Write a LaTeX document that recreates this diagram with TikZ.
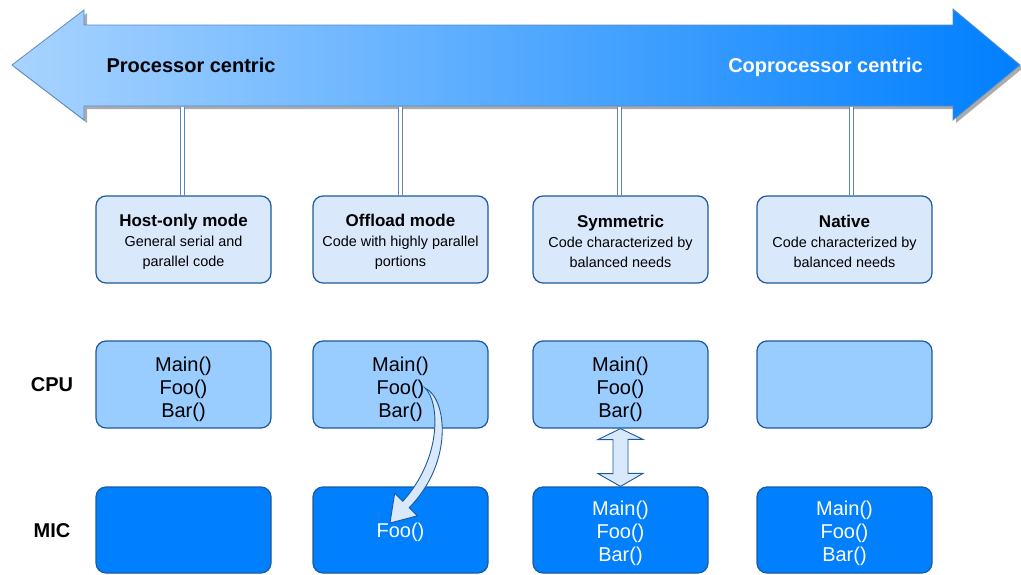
\documentclass[tikz,border=0pt]{standalone}
\usepackage{fontspec}
\setmainfont{Liberation Sans}
\usetikzlibrary{calc}

\definecolor{modefill}{HTML}{DAE8FC}
\definecolor{cpufill}{HTML}{99CCFF}
\definecolor{micfill}{HTML}{007FFF}
\definecolor{boxline}{HTML}{1B5A9C}
\definecolor{arrowline}{HTML}{5A89C8}
\definecolor{linkline}{HTML}{5F84BC}
\definecolor{shadowgray}{HTML}{ABABAB}

\tikzset{
  box/.style={draw=boxline, line width=1.2pt, rounded corners=10pt,
    minimum width=175pt, align=center, inner sep=0pt},
  modebox/.style={box, fill=modefill, minimum height=87pt,
    font=\fontsize{14.4}{20}\selectfont},
  cpubox/.style={box, fill=cpufill, minimum height=87pt,
    font=\fontsize{20}{23}\selectfont},
  micbox/.style={box, fill=micfill, minimum height=86pt, text=white,
    font=\fontsize{20}{23}\selectfont},
  rowlabel/.style={font=\fontsize{20}{24}\selectfont\bfseries},
  endlabel/.style={font=\fontsize{20}{24}\selectfont\bfseries,
    text height=14.5pt, text depth=4.5pt},
  link/.style={draw=linkline, line width=1.4pt, double=white, double distance=3pt},
  blockarrow/.style={draw=boxline, fill=modefill, line width=0.9pt, line join=miter}
}
% tall first-line strut, pushes a text block down inside its box
\newcommand{\topstrut}[1]{\rule{0pt}{#1}}
\newcommand{\modetitle}[1]{{\fontsize{17}{20}\selectfont\bfseries\topstrut{16.5pt}#1}}

\begin{document}
\begin{tikzpicture}[x=1pt,y=-1pt]
\useasboundingbox (0,0) rectangle (1021,574);

% two-headed scale arrow: shadow, gradient body, outline
\path[fill=shadowgray]
  ($(12,65)+(3,3)$) -- ($(84,10)+(3,3)$) -- ($(84,25)+(3,3)$) -- ($(953,25)+(3,3)$)
  -- ($(953,9)+(3,3)$) -- ($(1020,65)+(3,3)$) -- ($(953,120)+(3,3)$) -- ($(953,106)+(3,3)$)
  -- ($(84,106)+(3,3)$) -- ($(84,120)+(3,3)$) -- cycle;
\shade[left color=cpufill!85!white, middle color=micfill!68!white, right color=micfill]
  (12,65) -- (84,10) -- (84,25) -- (953,25) -- (953,9) -- (1020,65) -- (953,120)
  -- (953,106) -- (84,106) -- (84,120) -- cycle;
\draw[arrowline, line width=0.8pt, line join=miter]
  (12,65) -- (84,10) -- (84,25) -- (953,25) -- (953,9) -- (1020,65) -- (953,120)
  -- (953,106) -- (84,106) -- (84,120) -- cycle;

\node[endlabel] (proc) at (191,67) {Processor centric};
\node[endlabel, text=white] (coproc) at (825.5,67) {Coprocessor centric};

% mode boxes
\node[modebox] (host) at (183.5,239.5)
  {\modetitle{Host-only mode}\\General serial and\\parallel code};
\node[modebox] (offload) at (400.5,239.5)
  {\modetitle{Offload mode}\\Code with highly parallel\\portions};
\node[modebox] (sym) at (620.5,239.5)
  {\modetitle{Symmetric}\\Code characterized by\\balanced needs};
\node[modebox] (native) at (844.5,239.5)
  {\modetitle{Native}\\Code characterized by\\balanced needs};

% links from the scale arrow down to the modes
\coordinate (t1) at (182.5,106.5);
\coordinate (t2) at (400.5,106.5);
\coordinate (t3) at (619.5,106.5);
\coordinate (t4) at (851.5,106.5);
\draw[link] (t1) -- (t1 |- host.north);
\draw[link] (t2) -- (t2 |- offload.north);
\draw[link] (t3) -- (t3 |- sym.north);
\draw[link] (t4) -- (t4 |- native.north);

% row labels
\node[rowlabel] (cpu) at (52,385) {CPU};
\node[rowlabel] (mic) at (52,531) {MIC};

% CPU row
\node[cpubox] (cpu1) at (183.5,384.5) {\topstrut{24pt}Main()\\Foo()\\Bar()};
\node[cpubox] (cpu2) at (400.5,384.5) {\topstrut{24pt}Main()\\Foo()\\Bar()};
\node[cpubox] (cpu3) at (620.5,384.5) {\topstrut{24pt}Main()\\Foo()\\Bar()};
\node[cpubox] (cpu4) at (844.5,384.5) {};

% MIC row
\node[micbox] (mic1) at (183.5,530) {};
\node[micbox] (mic2) at (400.5,530) {\topstrut{18.6pt}Foo()};
\node[micbox] (mic3) at (620.5,530) {\topstrut{20.6pt}Main()\\Foo()\\Bar()};
\node[micbox] (mic4) at (844.5,530) {\topstrut{20.6pt}Main()\\Foo()\\Bar()};

% offload call: tapered curved block arrow from Foo() on the host to Foo() on the card
\coordinate (fooout) at (425,388);
\coordinate (headtip) at (390,523);
\path[blockarrow]
  (fooout) .. controls (447,398) and (454,462) .. (409.2,507.7)
  -- (417.3,515.8) -- (headtip) -- (394.7,493.2) -- (402.8,501.3)
  .. controls (442,458) and (440,402) .. (fooout) -- cycle;

% symmetric exchange: two-headed block arrow between CPU and MIC
\draw[blockarrow]
  (cpu3.south) -- ++(-22.5,11) -- ++(15,0) -- ++(0,34) -- ++(-15,0)
  -- (mic3.north) -- ++(22.5,-13) -- ++(-15,0) -- ++(0,-34) -- ++(15,0) -- cycle;
\end{tikzpicture}
\end{document}
